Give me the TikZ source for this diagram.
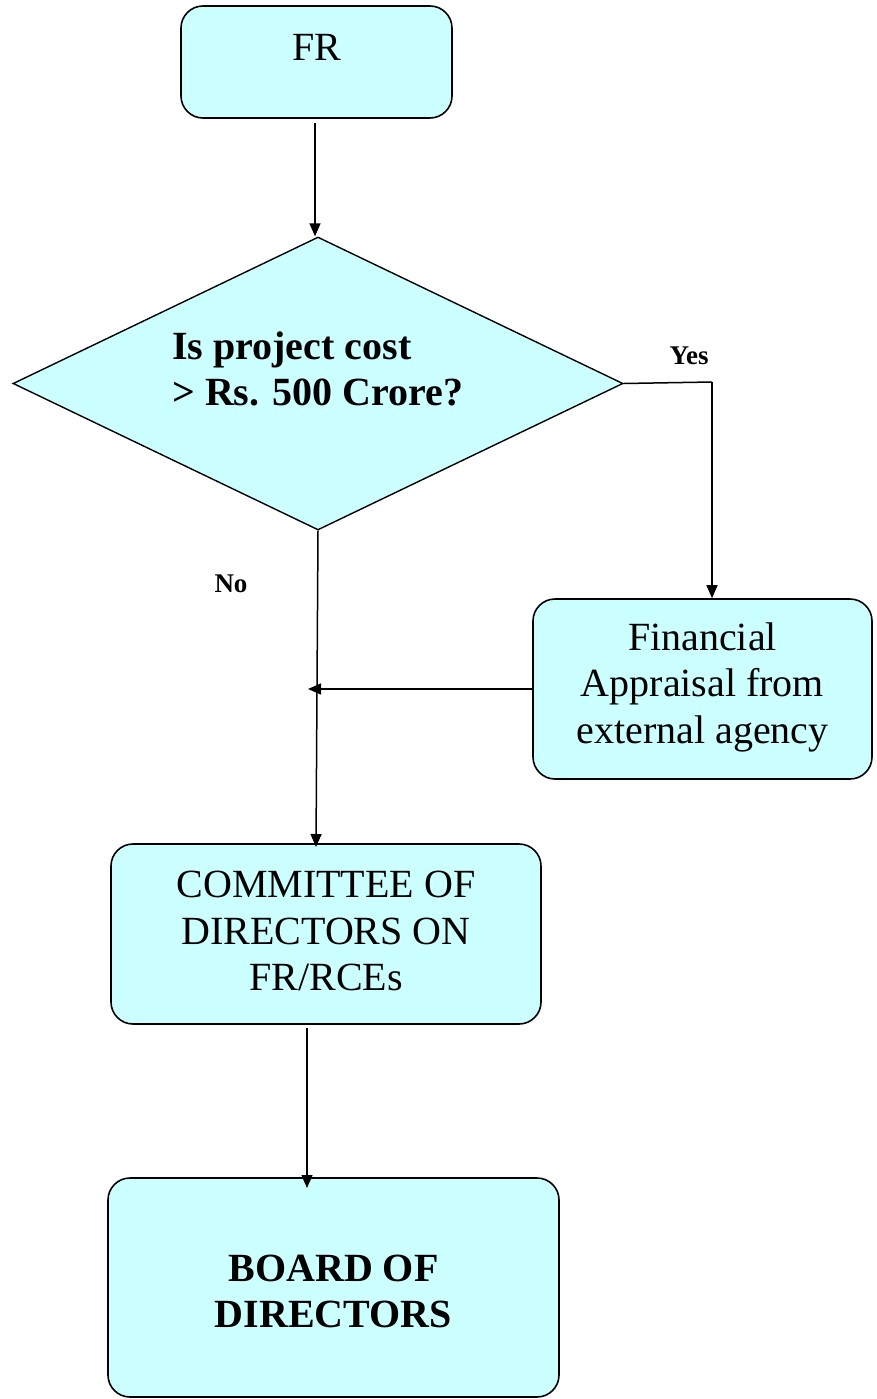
\documentclass[tikz,border=0pt]{standalone}
\usepackage{fontspec}
\setmainfont{Liberation Serif}
\usetikzlibrary{shapes.geometric,arrows.meta,calc}
\definecolor{boxfill}{HTML}{CCFFFF}
\tikzset{
  box/.style={draw=black, line width=1.6pt, fill=boxfill, rounded corners=22pt, inner sep=0pt},
  dec/.style={draw=black, line width=1.4pt, fill=boxfill, shape=diamond, inner sep=0pt},
  txt/.style={font=\fontsize{40}{46.5}\selectfont, align=center, inner sep=0pt},
  btxt/.style={font=\fontsize{40}{46}\selectfont\bfseries, align=center, inner sep=0pt},
  small/.style={font=\fontsize{27}{30}\selectfont\bfseries, inner sep=0pt, anchor=base},
  conn/.style={draw=black, line width=1.5pt},
  arr/.style={conn, -{Triangle[length=13pt,width=11pt]}}
}
\begin{document}
\begin{tikzpicture}[x=1pt,y=-1pt]
\useasboundingbox (0,0) rectangle (876,1399);
% boxes
\node[box, minimum width=271pt, minimum height=112pt] (fr) at (316.5,62) {};
\node[txt] (frt) at (316.5,47) {FR};
\node[dec, minimum width=610pt, minimum height=293pt] (dia) at (318,383.5) {};
\node[btxt, align=left, anchor=west] (diat) at (172,369) {Is project cost\\> Rs. 500 Crore?};
\node[box, minimum width=339pt, minimum height=180pt] (fin) at (702.5,689) {};
\node[txt] (fint) at (702.5,687) {Financial\\Appraisal from\\external agency};
\node[box, minimum width=430pt, minimum height=180pt] (com) at (326,934) {};
\node[txt] (comt) at (326,931) {COMMITTEE OF\\DIRECTORS ON\\FR/RCEs};
\node[box, minimum width=451pt, minimum height=219pt] (bod) at (333.5,1287.5) {};
\node[btxt] (bodt) at (333.5,1291) {BOARD OF\\DIRECTORS};
% labels
\node[small] (yes) at (689,364) {Yes};
\node[small] (no) at (231,592) {No};
% connectors
\coordinate (c1) at (315,123);
\coordinate (yc) at (712,382);
\coordinate (jn) at (308,689);
\coordinate (nb) at (316,847);
\coordinate (c2) at (307,1028);
\coordinate (c3) at (307,1188);
\draw[arr] (c1) -- (c1 |- dia.north);
\draw[conn] (dia.east) -- (yc);
\draw[arr] (yc) -- (yc |- fin.north);
\draw[arr] (dia.south) -- (nb);
\draw[arr] (fin.west) -- (jn);
\draw[arr] (c2) -- (c3);
\end{tikzpicture}
\end{document}
